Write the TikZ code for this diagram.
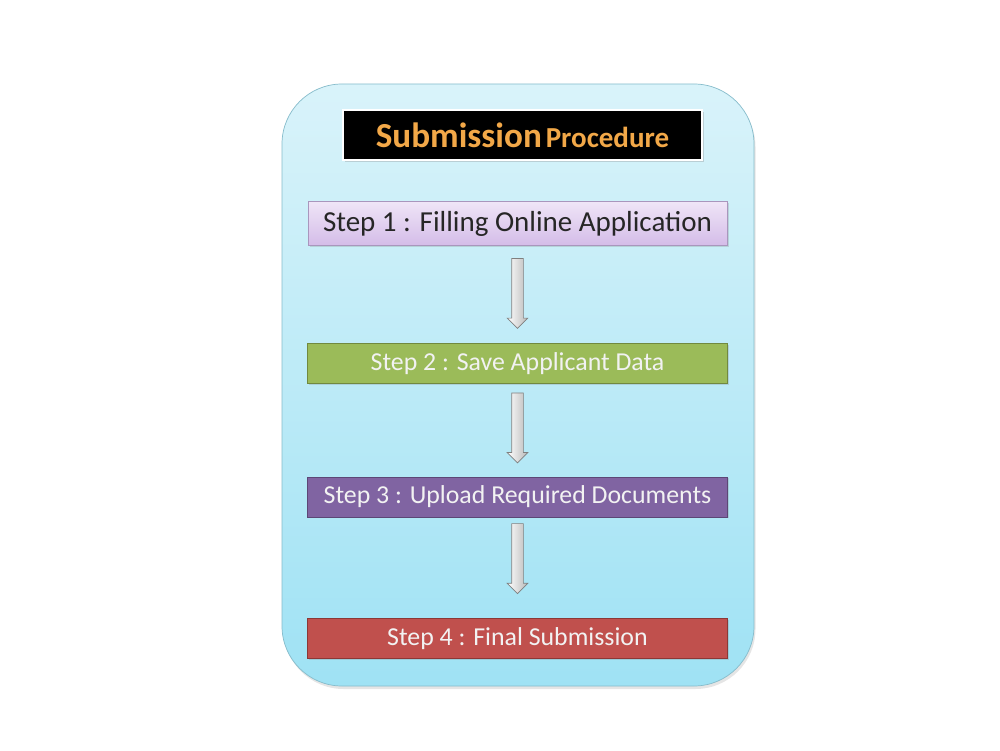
\documentclass[tikz,border=0pt]{standalone}
\usepackage{fontspec}
\setmainfont{Carlito}
\usetikzlibrary{positioning,shapes.arrows,shadows}
\definecolor{panelTop}{HTML}{D9F3FA}
\definecolor{panelBot}{HTML}{9FE2F4}
\definecolor{panelEdge}{HTML}{86BCCB}
\definecolor{titleOrange}{HTML}{F2A848}
\definecolor{lavTop}{HTML}{EFE5F7}
\definecolor{lavBot}{HTML}{D4BCE8}
\definecolor{lavEdge}{HTML}{A996BD}
\definecolor{stepGreen}{HTML}{9BBB59}
\definecolor{stepGreenEdge}{HTML}{71893F}
\definecolor{stepPurple}{HTML}{8064A2}
\definecolor{stepPurpleEdge}{HTML}{5C4776}
\definecolor{stepRed}{HTML}{C0504D}
\definecolor{stepRedEdge}{HTML}{8C3836}
\definecolor{arrowEdge}{HTML}{7F7F7F}
\tikzset{
  panel/.style={
    rectangle, rounded corners=1.2cm, draw=panelEdge, thin,
    top color=panelTop, bottom color=panelBot,
    minimum width=9.44cm, minimum height=12.04cm,
    drop shadow={opacity=0.2, shadow xshift=0.03cm, shadow yshift=-0.06cm}
  },
  titlebox/.style={
    rectangle, fill=black, draw=white, line width=1.4pt,
    minimum width=7.18cm, minimum height=1.0cm,
    drop shadow={opacity=0.3, shadow xshift=0.04cm, shadow yshift=-0.04cm}
  },
  stepbox/.style={
    rectangle, draw, thin, minimum width=8.4cm, minimum height=0.8cm,
    inner sep=0pt, text=white!95!black,
    font=\fontsize{14.7}{17}\selectfont,
    drop shadow={opacity=0.25, shadow xshift=0.03cm, shadow yshift=-0.03cm}
  },
  stepL/.style={
    stepbox, top color=lavTop, bottom color=lavBot, draw=lavEdge,
    minimum width=8.38cm, minimum height=0.88cm,
    text=black!85, font=\fontsize{16.5}{19}\selectfont
  },
  stepG/.style={stepbox, fill=stepGreen, draw=stepGreenEdge},
  stepP/.style={stepbox, fill=stepPurple, draw=stepPurpleEdge},
  stepR/.style={stepbox, fill=stepRed, draw=stepRedEdge},
  fatarrow/.style={
    single arrow, shape border rotate=270, draw=arrowEdge, thin,
    left color=white, right color=gray!55,
    minimum height=1.4cm, inner sep=0.11cm,
    single arrow head extend=0.09cm
  }
}
\begin{document}
\begin{tikzpicture}
  \useasboundingbox[fill=white] (0,0) rectangle (20,15);

  % Background panel
  \node[panel] (panel) at (10.36,7.3) {};

  % Title
  \node[titlebox] (title) at (10.45,12.3)
    {{\fontsize{20}{24}\selectfont\bfseries\color{titleOrange}Submission}
     {\fontsize{16.5}{20}\selectfont\bfseries\color{titleOrange}Procedure}};

  % Steps
  \node[stepL, below=0.8cm of title, xshift=-0.1cm] (s1)
    {Step 1 : Filling Online Application};
  \node[stepG, below=1.94cm of s1] (s2) {Step 2 : Save Applicant Data};
  \node[stepP, below=1.86cm of s2] (s3) {Step 3 : Upload Required Documents};
  \node[stepR, below=2.02cm of s3] (s4) {Step 4 : Final Submission};

  % Arrows between steps
  \path (s1.south) -- (s2.north) node[fatarrow, pos=0.46] (a1) {};
  \path (s2.south) -- (s3.north) node[fatarrow, pos=0.445] (a2) {};
  \path (s3.south) -- (s4.north) node[fatarrow, pos=0.38] (a3) {};
\end{tikzpicture}
\end{document}
